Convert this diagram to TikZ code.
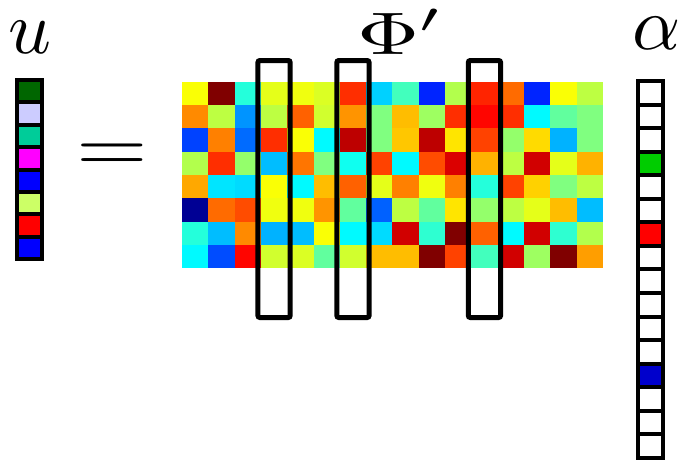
\documentclass[tikz,border=0pt]{standalone}
\begin{document}
\begin{tikzpicture}[x=1pt,y=-1pt,
  vcell/.style={draw=black,line width=4pt},
  colframe/.style={draw=black,line width=5pt,rounded corners=2pt},
  sym/.style={inner sep=0pt,anchor=base}]
\useasboundingbox (0,0) rectangle (693,469);
% Draw matrix Phi' as 8x16 jet coloured cells (values in percent)
\foreach \row [count=\i from 0] in {
  {62,100,41,60,61,59,83,33,44,16,55,84,77,16,62,56},
  {74,56,27,56,78,58,73,50,69,53,83,87,83,37,47,50},
  {19,75,23,83,62,37,94,50,68,94,65,81,52,66,30,50},
  {55,83,52,31,76,50,39,81,37,80,91,70,56,92,60,70},
  {71,35,34,62,37,69,78,60,75,61,75,41,81,67,50,56},
  {2,77,80,61,61,73,47,22,56,47,65,52,56,60,69,31},
  {41,31,74,30,31,62,37,34,92,42,100,78,37,92,42,55},
  {37,20,87,58,59,47,58,69,69,100,81,44,92,53,100,72}}{
  \foreach \v [count=\j from 0] in \row {
    \pgfmathsetmacro\jetr{max(0,min(1,1.5-abs(4*\v/100-3)))}
    \pgfmathsetmacro\jetg{max(0,min(1,1.5-abs(4*\v/100-2)))}
    \pgfmathsetmacro\jetb{max(0,min(1,1.5-abs(4*\v/100-1)))}
    \definecolor{cellc}{rgb}{\jetr,\jetg,\jetb}
    \fill[cellc] (182+26.3*\j,81.7+23.33*\i) rectangle ++(26.3,23.33);
  }
}
% Draw frames round the selected columns
\foreach \k in {3,6,11}
  \draw[colframe] (182+26.3*\k-3,60.5) rectangle ++(32.3,257);
% Draw vector u
\foreach \c [count=\i from 0] in {{rgb,255:red,0;green,102;blue,0},{rgb,255:red,204;green,204;blue,255},
  {rgb,255:red,0;green,204;blue,153},{rgb,255:red,255;green,0;blue,255},{rgb,255:red,0;green,0;blue,255},
  {rgb,255:red,204;green,255;blue,102},{rgb,255:red,255;green,0;blue,0},{rgb,255:red,0;green,0;blue,255}}
  \draw[vcell,fill=\c] (17,80+22.4*\i) rectangle ++(25.3,22.4);
% Draw vector alpha (16 entries, three non-zero)
\foreach \c [count=\i from 0] in {white,white,white,{rgb,255:red,0;green,204;blue,0},white,white,
  {rgb,255:red,255;green,0;blue,0},white,white,white,white,white,{rgb,255:red,0;green,0;blue,204},white,white,white}
  \draw[vcell,fill=\c] (637.7,81+23.56*\i) rectangle ++(25.3,23.56);
% Labels
\node[sym] (ulabel) at (30,53) {\scalebox{7.5}{$u$}};
\node[sym] (philabel) at (401,54) {\scalebox{8.6}[6]{$\Phi'$}};
\node[sym] (alphalabel) at (657,49) {\scalebox{7.5}{$\alpha$}};
\node[sym] (eqsign) at (112,171) {\scalebox{9.2}[7.5]{$=$}};
\end{tikzpicture}
\end{document}
